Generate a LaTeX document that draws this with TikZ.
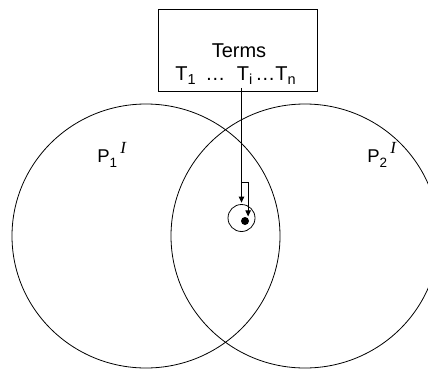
\documentclass[tikz,border=0pt]{standalone}
\usepackage{fontspec}
\setmainfont{Liberation Sans}
\newfontfamily\serifface{Liberation Serif}
\usetikzlibrary{arrows.meta,shapes.geometric}
\newcommand\mysub[1]{\raisebox{-4.5pt}{\fontsize{14.5}{14.5}\selectfont #1}}
\newcommand\mysubp[1]{\raisebox{-5pt}{\fontsize{13.5}{13.5}\selectfont #1}}
\newcommand\mysupI{\raisebox{8.5pt}{\fontsize{17}{17}\selectfont\serifface\itshape I}}
\begin{document}
\begin{tikzpicture}[x=1pt,y=-1pt,
  line width=0.8pt,
  lbl/.style={inner sep=0pt, font=\fontsize{20}{23}\selectfont},
  plbl/.style={inner sep=0pt, font=\fontsize{18.5}{22}\selectfont},
  bigring/.style={draw, ellipse, minimum width=268pt, minimum height=264pt, inner sep=0pt},
  arr/.style={-{Triangle[length=6pt,width=5.5pt]}}]
\useasboundingbox (0,0) rectangle (428,369);
\clip (0,0) rectangle (428,369);
\fill[white] (0,0) rectangle (428,369);
% big circles
\node[bigring] (p1) at (146,236) {};
\node[bigring] (p2) at (305,236) {};
% terms box
\node[draw, anchor=north west, minimum width=159pt, minimum height=82pt, inner sep=0pt] (box) at (158,9) {};
\node[lbl, anchor=base] (terms) at (239,57) {Terms};
\node[lbl, anchor=base west] (t1) at (175,80) {T\mysub{1}};
\node[lbl, anchor=base west] (e1) at (205,80) {…};
\node[lbl, anchor=base west] (ti) at (236.5,80) {T\mysub{i}};
\node[lbl, anchor=base west] (tn) at (255,80) {…T\mysub{n}};
% labels
\node[plbl, anchor=base west] (l1) at (97,162) {P\mysubp{1}\,\mysupI};
\node[plbl, anchor=base west] (l2) at (367,162) {P\mysubp{2}\,\mysupI};
% small circle and dot
\node[draw, circle, minimum size=27pt, inner sep=0pt] (sc) at (241.5,218) {};
\node[fill, circle, minimum size=8pt, inner sep=0pt] (dot) at (245,221) {};
\coordinate (br) at (241.5,182);
% arrows
\draw[arr, shorten >=1.5pt] ([yshift=-3pt]sc.north |- ti.south) -- (sc.north);
\draw[arr, shorten >=1.5pt] (br) -| (dot.north east);
\end{tikzpicture}
\end{document}
